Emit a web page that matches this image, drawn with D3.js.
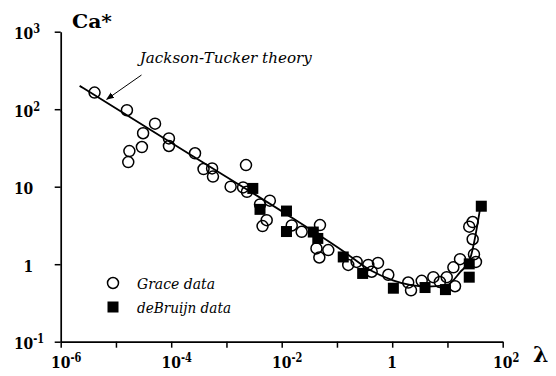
<!DOCTYPE html>
<html>
<head>
<meta charset="utf-8">
<script src="https://cdn.jsdelivr.net/npm/d3@7"></script>
<style>
body { margin: 0; background: #fff; }
</style>
</head>
<body>
<div id="chart"></div>
<script>
// Grace data (open circles)
var graceLambda = [4.1e-6, 1.58e-5, 5.1e-5, 3.1e-5, 2.95e-5, 1.75e-5, 1.67e-5, 9.1e-5, 9.1e-5,
  2.7e-4, 3.85e-4, 5.5e-4, 5.7e-4, 2.26e-3, 1.19e-3, 2.0e-3, 2.35e-3, 4.05e-3, 6.1e-3,
  5.35e-3, 4.5e-3, 0.0152, 0.023, 0.0493, 0.0426, 0.048, 0.0697, 0.16, 0.227, 0.369,
  0.553, 0.425, 0.85, 1.95, 2.19, 3.42, 5.55, 7.3, 9.7, 13.7, 12.8, 16.9, 30.2, 32.8,
  28.6, 24.8, 28.6];
var graceCa = [164, 97, 65, 49, 32.5, 28.8, 20.8, 42, 33.5,
  27, 16.9, 17.2, 13.5, 19, 10, 9.8, 8.6, 5.9, 6.6,
  3.7, 3.1, 3.16, 2.62, 3.2, 1.6, 1.22, 1.52, 0.98, 1.07, 0.98,
  1.04, 0.8, 0.73, 0.58, 0.46, 0.61, 0.68, 0.59, 0.68, 0.52, 0.91, 1.16, 1.34, 1.07,
  2.1, 3.05, 3.5];

// deBruijn data (filled squares)
var bruijnLambda = [3.0e-3, 4.05e-3, 0.0122, 0.0122, 0.0373, 0.045, 0.13, 0.292, 1.05, 3.93, 9.2, 24.8, 24.8, 41];
var bruijnCa = [9.5, 5.1, 4.85, 2.64, 2.6, 2.15, 1.24, 0.76, 0.49, 0.50, 0.47, 0.68, 1.01, 5.6];

// Jackson-Tucker theory curve
var theoryLambda = [2.2e-6, 2.2e-4, 0.012, 0.1285, 0.396, 1.03, 2.1, 4.27, 9.8, 16.8, 25.6, 40.5];
var theoryCa = [200, 26, 4.45, 1.48, 0.84, 0.62, 0.54, 0.515, 0.54, 0.785, 1.17, 6.17];

// ticks
var xMajor = [1e-6, 1e-4, 1e-2, 1, 1e2];
var xMinor = [1e-5, 1e-3, 1e-1, 10];
var xTickBase = ["10", "10", "10", "1", "10"];
var xTickExp = ["-6", "-4", "-2", "", "2"];
var yMajor = [1e3, 1e2, 10, 1, 0.1];
var yTickBase = ["10", "10", "10", "1", "10"];
var yTickExp = ["3", "2", "", "", "-1"];

var serif = "DejaVu Serif";
var sx = 0.82; // squeeze the wide DejaVu digits toward Times proportions

var margin = {top: 31.7, left: 60.7},
    width = 442,
    height = 310;

var svg = d3.select("#chart").append("svg")
  .attr("width", 556)
  .attr("height", 376);

var g = svg.append("g")
  .attr("transform", "translate(" + margin.left + "," + margin.top + ")");

var x = d3.scaleLog().domain([1e-6, 1e2]).range([0, width]);
var y = d3.scaleLog().domain([0.1, 1000]).range([height, 0]);

// axes
var xAx = g.append("g")
  .attr("transform", "translate(0," + height + ")")
  .call(d3.axisBottom(x).tickValues(xMajor.concat(xMinor)).tickFormat("").tickSize(6).tickSizeOuter(0));
var yAx = g.append("g")
  .call(d3.axisLeft(y).tickValues(yMajor).tickFormat("").tickSize(6).tickSizeOuter(0));
[xAx, yAx].forEach(function (a) {
  a.select(".domain").attr("stroke-width", 1.7);
  a.selectAll(".tick line").attr("stroke-width", 1.5);
});

function label(sel, size, bold, italic) {
  return sel.style("font-family", serif)
    .style("font-size", size + "px")
    .style("font-weight", bold ? "bold" : "normal")
    .style("font-style", italic ? "italic" : "normal");
}

// power-of-ten label: base digits plus raised exponent, in one text
function powLabel(base, exp) {
  var t = label(g.append("text"), 17, true);
  t.append("tspan").text(base);
  if (exp) {
    t.append("tspan").attr("dy", -6).style("font-size", "12px").text(exp);
  }
  return t;
}

// x tick labels: base digits centred on the tick
xMajor.forEach(function (v, i) {
  var t = powLabel(xTickBase[i], xTickExp[i]);
  var bw = t.node().getSubStringLength(0, xTickBase[i].length) * sx;
  t.attr("transform", "translate(" + (x(v) - bw / 2) + "," + (height + 26.5) + ") scale(" + sx + ",1)");
});

// y tick labels: base digits end at the same x, exponent hangs right
yMajor.forEach(function (v, i) {
  var t = powLabel(yTickBase[i], yTickExp[i]);
  var bw = t.node().getSubStringLength(0, yTickBase[i].length) * sx;
  t.attr("transform", "translate(" + (-27.4 - bw) + "," + (y(v) + 7.6) + ") scale(" + sx + ",1)");
});

// axis titles
label(svg.append("text"), 18, true)
  .attr("x", 72).attr("y", 28)
  .attr("textLength", 40).attr("lengthAdjust", "spacingAndGlyphs")
  .text("Ca*");
label(svg.append("text"), 22, true)
  .attr("x", 533).attr("y", 362)
  .text("λ");

// deBruijn squares
var bruijn = bruijnLambda.map(function (d, i) { return {l: d, c: bruijnCa[i]}; });
g.selectAll("rect.db")
  .data(bruijn)
  .enter()
  .append("rect")
  .attr("class", "db")
  .attr("x", function (d) { return x(d.l) - 5.5; })
  .attr("y", function (d) { return y(d.c) - 5.5; })
  .attr("width", 11)
  .attr("height", 11)
  .attr("fill", "#000");

// Grace circles
var grace = graceLambda.map(function (d, i) { return {l: d, c: graceCa[i]}; });
g.selectAll("circle.gr")
  .data(grace)
  .enter()
  .append("circle")
  .attr("class", "gr")
  .attr("cx", function (d) { return x(d.l); })
  .attr("cy", function (d) { return y(d.c); })
  .attr("r", 5.5)
  .attr("fill", "none")
  .attr("stroke", "#000")
  .attr("stroke-width", 1.5);

// theory line
var theory = theoryLambda.map(function (d, i) { return {l: d, c: theoryCa[i]}; });
g.append("path")
  .datum(theory)
  .attr("fill", "none")
  .attr("stroke", "#000")
  .attr("stroke-width", 1.8)
  .attr("d", d3.line()
    .x(function (d) { return x(d.l); })
    .y(function (d) { return y(d.c); })
    .curve(d3.curveMonotoneX));

// annotation
svg.append("defs").append("marker")
  .attr("id", "arr")
  .attr("viewBox", "0 0 10 10")
  .attr("refX", 9).attr("refY", 5)
  .attr("markerWidth", 8).attr("markerHeight", 8)
  .attr("markerUnits", "userSpaceOnUse")
  .attr("orient", "auto")
  .append("path").attr("d", "M0,1 L10,5 L0,9 Z").attr("fill", "#000");

g.append("line")
  .attr("x1", x(2.9e-5)).attr("y1", y(276))
  .attr("x2", x(6.8e-6)).attr("y2", y(134))
  .attr("stroke", "#000")
  .attr("stroke-width", 1)
  .attr("marker-end", "url(#arr)");

label(g.append("text"), 15, false, true)
  .attr("x", x(2.7e-5)).attr("y", y(395))
  .attr("textLength", 172).attr("lengthAdjust", "spacingAndGlyphs")
  .text("Jackson-Tucker theory");

// legend
var leg = svg.append("g");
leg.append("circle").attr("cx", 113).attr("cy", 283).attr("r", 5.5)
  .attr("fill", "none").attr("stroke", "#000").attr("stroke-width", 1.5);
leg.append("rect").attr("x", 107.5).attr("y", 301.5).attr("width", 11).attr("height", 11).attr("fill", "#000");
label(leg.append("text"), 15, false, true).attr("x", 137).attr("y", 289)
  .attr("textLength", 78).attr("lengthAdjust", "spacingAndGlyphs")
  .text("Grace data");
label(leg.append("text"), 15, false, true).attr("x", 137).attr("y", 313)
  .attr("textLength", 94).attr("lengthAdjust", "spacingAndGlyphs")
  .text("deBruijn data");
</script>
</body>
</html>
